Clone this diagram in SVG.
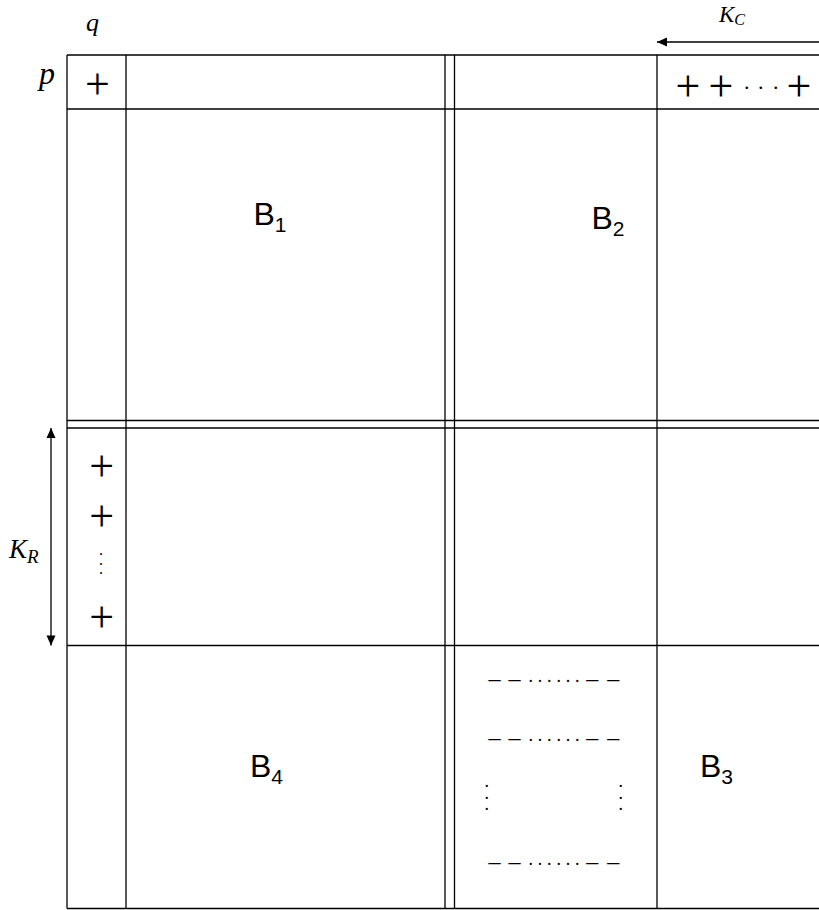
<svg xmlns="http://www.w3.org/2000/svg" width="819" height="910" viewBox="0 0 819 910">
<style>
.ln{stroke:#000;stroke-width:1.3;fill:none}
.ar{stroke:#000;stroke-width:1.3;fill:none}
.mi{font-family:"Liberation Serif",serif;font-style:italic;fill:#000}
.sym{font-family:"Liberation Serif",serif;fill:#000;text-anchor:middle}
.bl{font-family:"Liberation Sans",Arial,sans-serif;font-size:32px;fill:#000}
</style>
<defs>
<marker id="ah" markerUnits="userSpaceOnUse" markerWidth="12" markerHeight="10" viewBox="0 0 12 10" refX="11" refY="5" orient="auto-start-reverse">
<path d="M1,0.5 L11,5 L1,9.5 Z" fill="#000"/>
</marker>
</defs>
<rect width="819" height="910" fill="#fff"/>
<g id="grid">
<line class="ln" x1="67" y1="55" x2="819" y2="55"/>
<line class="ln" x1="67" y1="109" x2="819" y2="109"/>
<line class="ln" x1="67" y1="420.5" x2="819" y2="420.5"/>
<line class="ln" x1="67" y1="428" x2="819" y2="428"/>
<line class="ln" x1="67" y1="645.5" x2="819" y2="645.5"/>
<line class="ln" x1="67" y1="908.5" x2="819" y2="908.5"/>
<line class="ln" x1="67" y1="55" x2="67" y2="908.5"/>
<line class="ln" x1="126" y1="55" x2="126" y2="908.5"/>
<line class="ln" x1="445" y1="55" x2="445" y2="908.5"/>
<line class="ln" x1="454.5" y1="55" x2="454.5" y2="908.5"/>
<line class="ln" x1="657" y1="55" x2="657" y2="908.5"/>
</g>
<g id="connectors">
<line class="ar" x1="657" y1="42" x2="829" y2="42" marker-start="url(#ah)" marker-end="url(#ah)"/>
<line class="ar" x1="51" y1="428" x2="51" y2="645.5" marker-start="url(#ah)" marker-end="url(#ah)"/>
</g>
<g id="axis-labels">
<text class="mi" x="86" y="31" font-size="26">q</text>
<text class="mi" x="39" y="84" font-size="32">p</text>
<text class="mi" x="719" y="22" font-size="23">K<tspan font-size="16" dy="3">C</tspan></text>
<text class="mi" x="9" y="558" font-size="27">K<tspan font-size="19" dy="4.5">R</tspan></text>
</g>
<g id="row-p">
<text class="sym" x="97.5" y="99" font-size="44">+</text>
<text class="sym" y="100.5" font-size="44"><tspan x="688 721">++</tspan><tspan x="746.7 760.7 775.7" y="88.5" font-size="22">...</tspan><tspan x="799" y="100.5">+</tspan></text>
</g>
<g id="col-q">
<text class="sym" font-size="44"><tspan x="101.7 101.7" y="481 531">++</tspan><tspan x="101 101 101" y="555 564.5 574" font-size="16">...</tspan><tspan x="101.7" y="632">+</tspan></text>
</g>
<g id="B1"><text class="bl" x="253.5" y="225">B<tspan font-size="21" dy="7">1</tspan></text></g>
<g id="B2"><text class="bl" x="591.5" y="229">B<tspan font-size="21" dy="7">2</tspan></text></g>
<g id="B4"><text class="bl" x="250" y="777">B<tspan font-size="21" dy="7">4</tspan></text></g>
<g id="B3"><text class="bl" x="700" y="777">B<tspan font-size="21" dy="7">3</tspan></text></g>
<g id="dash-rows">
<text class="sym" font-size="24"><tspan x="494.5 514.5" y="686.1">––</tspan><tspan x="530.7 540 549.3 558.7 568 577.3" y="681.7" font-size="18">......</tspan><tspan x="592.3 613.3" y="686.1">––</tspan></text>
<text class="sym" font-size="24"><tspan x="494.5 514.5" y="745.4">––</tspan><tspan x="530.7 540 549.3 558.7 568 577.3" y="741" font-size="18">......</tspan><tspan x="592.3 613.3" y="745.4">––</tspan></text>
<text class="sym" font-size="24"><tspan x="494.5 514.5" y="869.4">––</tspan><tspan x="530.7 540 549.3 558.7 568 577.3" y="865" font-size="18">......</tspan><tspan x="592.3 613.3" y="869.4">––</tspan></text>
<text class="sym" x="486.7 486.7 486.7" y="787 798.7 810.3" font-size="18">...</text>
<text class="sym" x="620.7 620.7 620.7" y="787 798.7 810.3" font-size="18">...</text>
</g>
</svg>
